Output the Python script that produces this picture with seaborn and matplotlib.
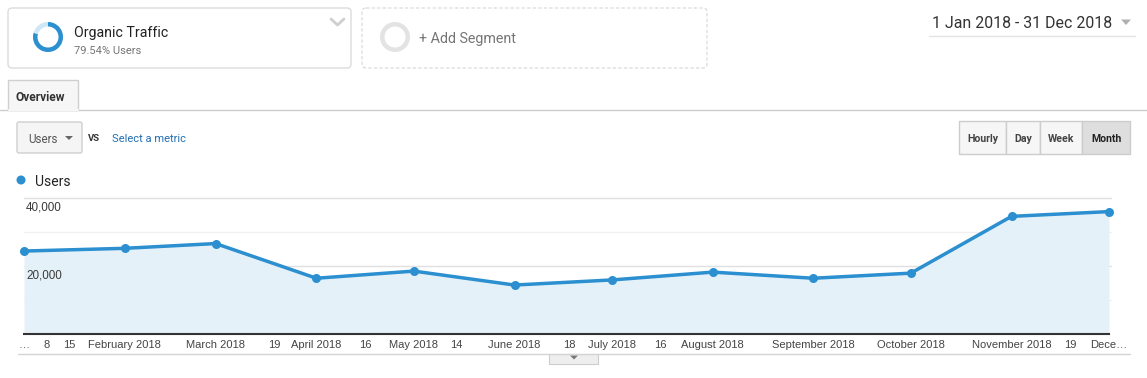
import matplotlib
matplotlib.use("Agg")
import matplotlib.pyplot as plt
from matplotlib.patches import FancyBboxPatch, Rectangle, Wedge, Polygon, Circle
import pandas as pd
import seaborn as sns

# Data
months = ["2018-01-01", "2018-02-01", "2018-03-01", "2018-04-01", "2018-05-01", "2018-06-01",
          "2018-07-01", "2018-08-01", "2018-09-01", "2018-10-01", "2018-11-01", "2018-12-01"]
users = [24400, 25200, 26600, 16400, 18500, 14400, 15900, 18200, 16400, 17900, 34600, 36000]

tick_dates = ["2018-01-01", "2018-01-08", "2018-01-15", "2018-02-01", "2018-03-01", "2018-03-19",
              "2018-04-01", "2018-04-16", "2018-05-01", "2018-05-14", "2018-06-01", "2018-06-18",
              "2018-07-01", "2018-07-16", "2018-08-01", "2018-09-01", "2018-10-01", "2018-11-01",
              "2018-11-19", "2018-12-01"]
tick_labels = ["…", "8", "15", "February 2018", "March 2018", "19", "April 2018", "16",
               "May 2018", "14", "June 2018", "18", "July 2018", "16", "August 2018",
               "September 2018", "October 2018", "November 2018", "19", "Dece…"]

y_ticks = [10000, 20000, 30000, 40000]
y_labels = ["", "20,000", "", "40,000"]

segment_name = "Organic Traffic"
segment_share = 79.54

df = pd.DataFrame({"month": pd.to_datetime(months), "users": users})

sns.set_style("white")
plt.rcParams["font.family"] = ["Roboto", "DejaVu Sans"]

W, H = 1147, 378
fig = plt.figure(figsize=(W / 100, H / 100), dpi=100)

# Overlay in pixel coordinates for the dashboard chrome
ui = fig.add_axes([0, 0, 1, 1])
ui.set_xlim(0, W)
ui.set_ylim(H, 0)
ui.axis("off")

blue = "#2b8fd0"
grey_txt = "#757575"
dy = 1.5  # nudge: va="center" sits a bit high for text without descenders

# Segment box 1
ui.add_patch(FancyBboxPatch((8, 8), 343, 60, boxstyle="round,pad=0,rounding_size=4",
                            fc="white", ec="#dcdcdc", lw=1))
dark_span = segment_share / 100 * 360
ui.add_patch(Wedge((48, 37), 15, -90, -90 + dark_span, width=4.5, fc=blue, ec="none"))
ui.add_patch(Wedge((48, 37), 15, -90 + dark_span, 270, width=4.5, fc="#cfe6f5", ec="none"))
ui.text(74, 32 + dy, segment_name, fontsize=10.2, color="#212121", va="center")
ui.text(74, 50 + dy, f"{segment_share:.2f}% Users", fontsize=8, color=grey_txt, va="center")
ui.plot([331, 337.5, 344], [19, 25, 19], color="#cfcfcf", lw=2, solid_capstyle="round")

# Segment box 2 (dashed)
ui.add_patch(FancyBboxPatch((362, 8), 345, 60, boxstyle="round,pad=0,rounding_size=4",
                            fc="white", ec="#d6d6d6", lw=0.8, ls=(0, (3, 2))))
ui.add_patch(Wedge((395, 37), 15, 0, 360, width=4.5, fc="#e3e3e3", ec="none"))
ui.text(419, 37 + dy, "+ Add Segment", fontsize=10.3, color=grey_txt, va="center")

# Date range
ui.text(932, 22 + dy, "1 Jan 2018 - 31 Dec 2018", fontsize=11.4, color="#333333", va="center")
ui.add_patch(Polygon([[1121, 19.5], [1131, 19.5], [1126, 25]], closed=True, fc="#b0b0b0", ec="none"))
ui.plot([929, 1135], [36, 36], color="#e4e4e4", lw=1)

# Overview tab + divider
ui.plot([0, W], [110, 110], color="#cccccc", lw=1)
ui.add_patch(Rectangle((8, 80), 70, 30, fc="#f6f6f6", ec="#d0d0d0", lw=1))
ui.plot([8.5, 77.5], [110, 110], color="#f6f6f6", lw=1.5)
ui.text(16, 96 + dy, "Overview", fontsize=8.6, fontweight="bold", color="#333333", va="center")

# Metric selector
ui.add_patch(FancyBboxPatch((17, 122), 65, 31, boxstyle="round,pad=0,rounding_size=2",
                            fc="#f5f5f5", ec="#cfcfcf", lw=1))
ui.text(28, 138 + dy, "Users", fontsize=8.4, color="#555555", va="center")
ui.add_patch(Polygon([[65, 136], [73, 136], [69, 140]], closed=True, fc="#666666", ec="none"))
ui.text(88, 137 + dy, "VS", fontsize=6.8, fontweight="bold", color="#333333", va="center")
ui.text(112, 138 + dy, "Select a metric", fontsize=8, color="#1f6fb2", va="center")

# Hourly / Day / Week / Month buttons
btn_edges = [959, 1006, 1040, 1082, 1130]
btn_labels = ["Hourly", "Day", "Week", "Month"]
for i, lab in enumerate(btn_labels):
    x0, x1 = btn_edges[i], btn_edges[i + 1]
    fc = "#dedede" if lab == "Month" else "#f6f6f6"
    ui.add_patch(Rectangle((x0, 121), x1 - x0, 33, fc=fc, ec="#cccccc", lw=1))
    ui.text((x0 + x1) / 2, 138 + dy, lab, fontsize=7.6, fontweight="bold",
            color="#222222" if lab == "Month" else "#444444", ha="center", va="center")

# Legend
ui.add_patch(Circle((21, 180), 4.5, fc=blue, ec="none"))
ui.text(35, 180 + dy, "Users", fontsize=10, color="#222222", va="center")

# Bottom rule and collapse tab
ui.plot([18, 1130], [354, 354], color="#d4d4d4", lw=1)
ui.add_patch(Rectangle((549, 354), 49, 10, fc="#eeeeee", ec="#cccccc", lw=0.8))
ui.add_patch(Polygon([[570, 355.5], [578, 355.5], [574, 359.5]], closed=True, fc="#777777", ec="none"))

# Main chart axes
left, right, top, bottom = 24, 1109, 198, 334
ax = fig.add_axes([left / W, 1 - bottom / H, (right - left) / W, (bottom - top) / H])
ax.patch.set_alpha(0)

ax.fill_between(df["month"], df["users"], 0, color="#e5f1f9", lw=0, zorder=1)
for yv in y_ticks:
    ax.axhline(yv, color="#e0e0e0" if yv in (20000, 40000) else "#f0f0f0", lw=1, zorder=0.5,
               xmax=1.002, clip_on=False)
sns.lineplot(data=df, x="month", y="users", ax=ax, color=blue, lw=2.5, marker="o",
             markersize=6.5, markeredgewidth=0, zorder=3, clip_on=False)

ax.set_xlim(df["month"].iloc[0], df["month"].iloc[-1])
ax.set_ylim(0, 40000)
ax.set_xlabel("")
ax.set_ylabel("")
ax.set_yticks([])
ax.set_xticks(pd.to_datetime(tick_dates))
ax.set_xticklabels(tick_labels, family=["Liberation Sans", "DejaVu Sans"], fontsize=8, color="#444444")
ax.tick_params(axis="x", length=0, pad=4)

for yv, lab in zip(y_ticks, y_labels):
    if lab:
        ax.annotate(lab, xy=(0, yv), xycoords=ax.get_yaxis_transform(),
                    xytext=(2, -3), textcoords="offset pixels",
                    fontsize=8.4, color="#3a3a3a", va="top", ha="left",
                    family=["Liberation Sans", "DejaVu Sans"])

for side in ["top", "left", "right"]:
    ax.spines[side].set_visible(False)
ax.spines["bottom"].set_color("#333333")
ax.spines["bottom"].set_linewidth(1.5)
ax.spines["bottom"].set_zorder(4)

fig.savefig("out.png", dpi=100)
